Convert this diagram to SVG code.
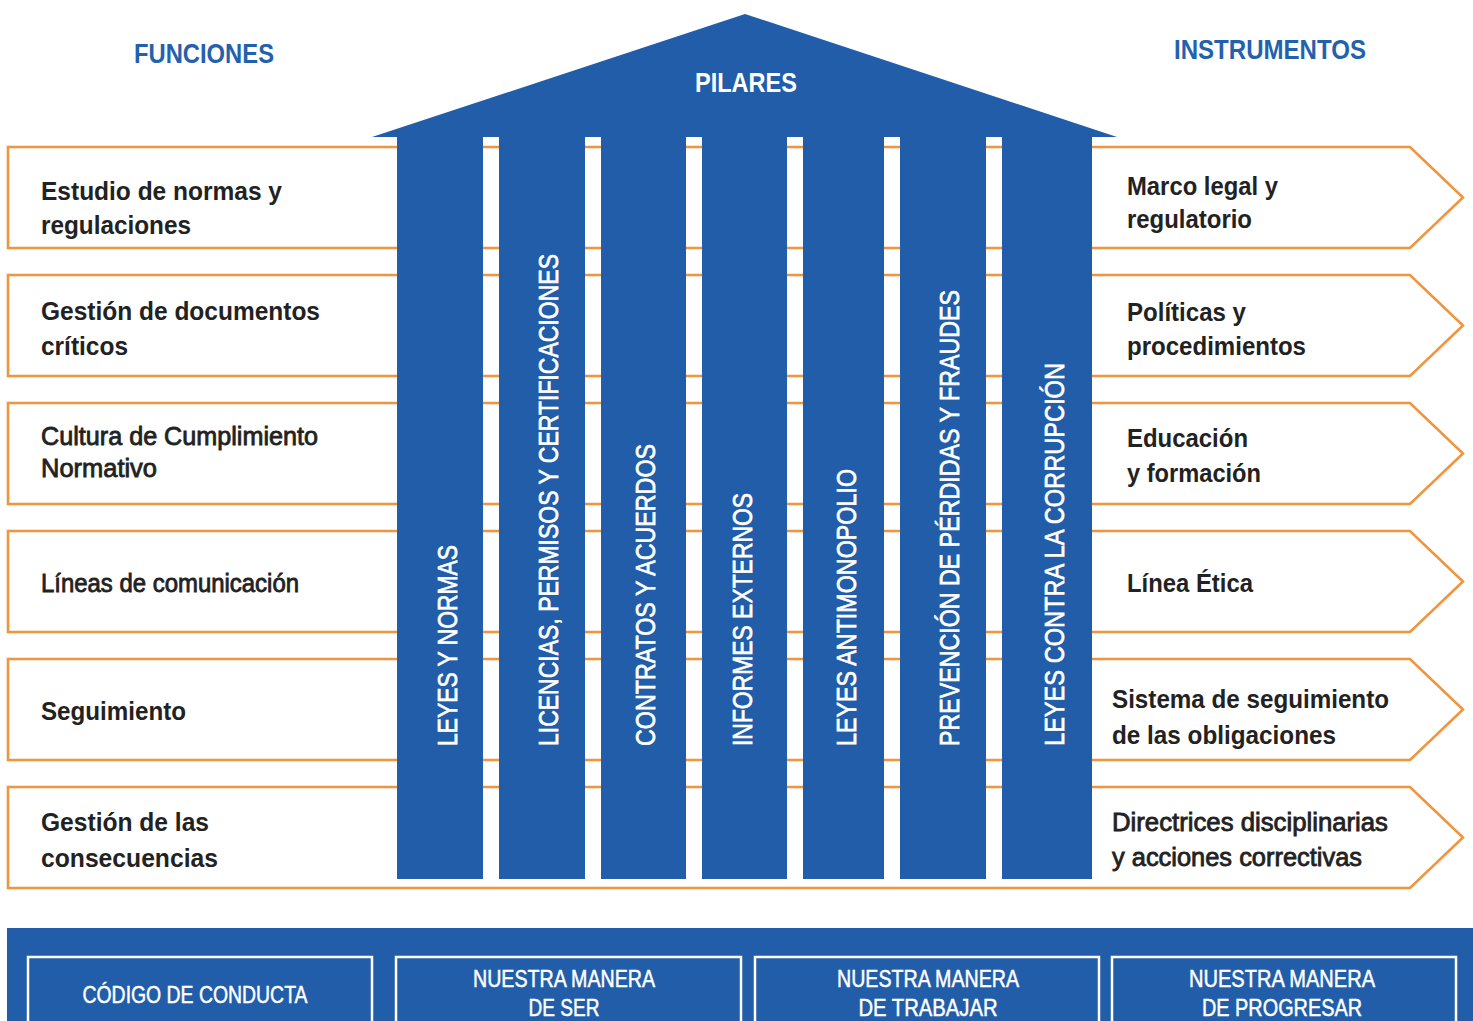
<svg xmlns="http://www.w3.org/2000/svg" width="1473" height="1021" viewBox="0 0 1473 1021">
<style>
.row{fill:#fff;stroke:#F0953F;stroke-width:2.6;stroke-linejoin:miter}
.blue{fill:#215DA9}
.hdr{font-family:"Liberation Sans",Arial,sans-serif;font-weight:bold;font-size:28px;fill:#2461AD}
.lt{font-family:"Liberation Sans",Arial,sans-serif;font-weight:bold;font-size:25px;fill:#222}
.lr{font-family:"Liberation Sans",Arial,sans-serif;font-weight:normal;font-size:25px;fill:#222;stroke:#222;stroke-width:0.8}
.pt{font-family:"Liberation Sans",Arial,sans-serif;font-size:28px;fill:#fff;stroke:#fff;stroke-width:0.7}
.bt{font-family:"Liberation Sans",Arial,sans-serif;font-size:24px;fill:#fff;stroke:#fff;stroke-width:0.5}
.ib{fill:none;stroke:#fff;stroke-width:2.5}
</style>
<rect width="1473" height="1021" fill="#fff"/>

<g id="headers">
<text class="hdr" x="134" y="63" textLength="140" lengthAdjust="spacingAndGlyphs">FUNCIONES</text>
<text class="hdr" x="1174" y="59" textLength="192" lengthAdjust="spacingAndGlyphs">INSTRUMENTOS</text>
</g>

<g id="row1">
<path class="row" d="M8,147 H1410 L1463,197.5 L1410,248 H8 Z"/>
<text class="lt" x="41" y="200" textLength="241" lengthAdjust="spacingAndGlyphs">Estudio de normas y</text>
<text class="lt" x="41" y="234" textLength="150" lengthAdjust="spacingAndGlyphs">regulaciones</text>
<text class="lt" x="1127" y="195" textLength="151" lengthAdjust="spacingAndGlyphs">Marco legal y</text>
<text class="lt" x="1127" y="228" textLength="125" lengthAdjust="spacingAndGlyphs">regulatorio</text>
</g>
<g id="row2">
<path class="row" d="M8,275 H1410 L1463,325.5 L1410,376 H8 Z"/>
<text class="lt" x="41" y="320" textLength="279" lengthAdjust="spacingAndGlyphs">Gestión de documentos</text>
<text class="lt" x="41" y="355" textLength="87" lengthAdjust="spacingAndGlyphs">críticos</text>
<text class="lt" x="1127" y="321" textLength="119" lengthAdjust="spacingAndGlyphs">Políticas y</text>
<text class="lt" x="1127" y="355" textLength="179" lengthAdjust="spacingAndGlyphs">procedimientos</text>
</g>
<g id="row3">
<path class="row" d="M8,403 H1410 L1463,453.5 L1410,504 H8 Z"/>
<text class="lr" x="41" y="445" textLength="277" lengthAdjust="spacingAndGlyphs">Cultura de Cumplimiento</text>
<text class="lr" x="41" y="477" textLength="116" lengthAdjust="spacingAndGlyphs">Normativo</text>
<text class="lt" x="1127" y="447" textLength="121" lengthAdjust="spacingAndGlyphs">Educación</text>
<text class="lt" x="1127" y="482" textLength="134" lengthAdjust="spacingAndGlyphs">y formación</text>
</g>
<g id="row4">
<path class="row" d="M8,531 H1410 L1463,581.5 L1410,632 H8 Z"/>
<text class="lr" x="41" y="592" textLength="258" lengthAdjust="spacingAndGlyphs">Líneas de comunicación</text>
<text class="lt" x="1127" y="592" textLength="126" lengthAdjust="spacingAndGlyphs">Línea Ética</text>
</g>
<g id="row5">
<path class="row" d="M8,659 H1410 L1463,709.5 L1410,760 H8 Z"/>
<text class="lt" x="41" y="720" textLength="145" lengthAdjust="spacingAndGlyphs">Seguimiento</text>
<text class="lt" x="1112" y="708" textLength="277" lengthAdjust="spacingAndGlyphs">Sistema de seguimiento</text>
<text class="lt" x="1112" y="744" textLength="224" lengthAdjust="spacingAndGlyphs">de las obligaciones</text>
</g>
<g id="row6">
<path class="row" d="M8,787 H1410 L1463,837.5 L1410,888 H8 Z"/>
<text class="lt" x="41" y="831" textLength="168" lengthAdjust="spacingAndGlyphs">Gestión de las</text>
<text class="lt" x="41" y="867" textLength="177" lengthAdjust="spacingAndGlyphs">consecuencias</text>
<text class="lr" x="1112" y="831" textLength="276" lengthAdjust="spacingAndGlyphs">Directrices disciplinarias</text>
<text class="lr" x="1112" y="866" textLength="250" lengthAdjust="spacingAndGlyphs">y acciones correctivas</text>
</g>

<g id="roof">
<polygon class="blue" points="745,14 1117,137 372,137"/>
<text x="695" y="92" font-family="Liberation Sans, Arial, sans-serif" font-weight="bold" font-size="28" fill="#fff" textLength="102" lengthAdjust="spacingAndGlyphs">PILARES</text>
</g>

<g id="pillar1"><rect class="blue" x="397" y="136" width="86" height="743"/>
<text class="pt" transform="translate(457,746) rotate(-90)" textLength="201" lengthAdjust="spacingAndGlyphs">LEYES Y NORMAS</text></g>
<g id="pillar2"><rect class="blue" x="499" y="136" width="86" height="743"/>
<text class="pt" transform="translate(558,746) rotate(-90)" textLength="492" lengthAdjust="spacingAndGlyphs">LICENCIAS, PERMISOS Y CERTIFICACIONES</text></g>
<g id="pillar3"><rect class="blue" x="601" y="136" width="85" height="743"/>
<text class="pt" transform="translate(655,746) rotate(-90)" textLength="302" lengthAdjust="spacingAndGlyphs">CONTRATOS Y ACUERDOS</text></g>
<g id="pillar4"><rect class="blue" x="702" y="136" width="85" height="743"/>
<text class="pt" transform="translate(752,746) rotate(-90)" textLength="253" lengthAdjust="spacingAndGlyphs">INFORMES EXTERNOS</text></g>
<g id="pillar5"><rect class="blue" x="803" y="136" width="81" height="743"/>
<text class="pt" transform="translate(856,746) rotate(-90)" textLength="277" lengthAdjust="spacingAndGlyphs">LEYES ANTIMONOPOLIO</text></g>
<g id="pillar6"><rect class="blue" x="900" y="136" width="86" height="743"/>
<text class="pt" transform="translate(959,746) rotate(-90)" textLength="456" lengthAdjust="spacingAndGlyphs">PREVENCIÓN DE PÉRDIDAS Y FRAUDES</text></g>
<g id="pillar7"><rect class="blue" x="1002" y="136" width="90" height="743"/>
<text class="pt" transform="translate(1064,746) rotate(-90)" textLength="383" lengthAdjust="spacingAndGlyphs">LEYES CONTRA LA CORRUPCIÓN</text></g>

<g id="base">
<rect class="blue" x="7" y="928" width="1470" height="100"/>
</g>
<g id="base1"><rect class="ib" x="28" y="957" width="344" height="80"/>
<text class="bt" x="195" y="1003" text-anchor="middle" textLength="225" lengthAdjust="spacingAndGlyphs">CÓDIGO DE CONDUCTA</text></g>
<g id="base2"><rect class="ib" x="396" y="957" width="345" height="80"/>
<text class="bt" x="564" y="987" text-anchor="middle" textLength="182" lengthAdjust="spacingAndGlyphs">NUESTRA MANERA</text>
<text class="bt" x="564" y="1016" text-anchor="middle" textLength="71" lengthAdjust="spacingAndGlyphs">DE SER</text></g>
<g id="base3"><rect class="ib" x="755" y="957" width="344" height="80"/>
<text class="bt" x="928" y="987" text-anchor="middle" textLength="182" lengthAdjust="spacingAndGlyphs">NUESTRA MANERA</text>
<text class="bt" x="928" y="1016" text-anchor="middle" textLength="139" lengthAdjust="spacingAndGlyphs">DE TRABAJAR</text></g>
<g id="base4"><rect class="ib" x="1112" y="957" width="344" height="80"/>
<text class="bt" x="1282" y="987" text-anchor="middle" textLength="186" lengthAdjust="spacingAndGlyphs">NUESTRA MANERA</text>
<text class="bt" x="1282" y="1016" text-anchor="middle" textLength="160" lengthAdjust="spacingAndGlyphs">DE PROGRESAR</text></g>

<g id="connectors"></g>
</svg>
